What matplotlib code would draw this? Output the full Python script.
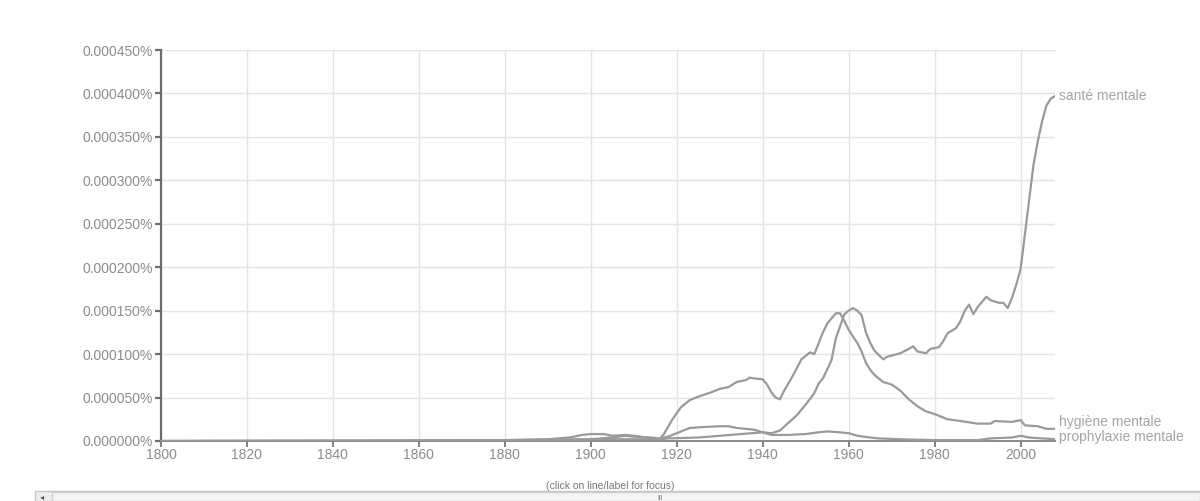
import numpy as np
import matplotlib
matplotlib.use("Agg")
import matplotlib.pyplot as plt
from matplotlib.patches import Rectangle
from matplotlib.ticker import FuncFormatter, MultipleLocator

# values are in millionths of a percent (1 = 0.000001%)
sante_years = [1800, 1850, 1880, 1900, 1910, 1916, 1918, 1925, 1930, 1935, 1940, 1942,
               1944, 1946, 1948, 1950, 1952, 1953, 1954, 1956, 1957, 1959, 1960, 1961,
               1962, 1963, 1964, 1965, 1966, 1968, 1969, 1972, 1974, 1975, 1976, 1978,
               1979, 1981, 1982, 1983, 1985, 1986, 1987, 1988, 1989, 1990, 1992, 1993,
               1995, 1996, 1997, 1998, 1999, 2000, 2001, 2002, 2003, 2004, 2005, 2006,
               2007, 2008]
sante_vals = [0, 0.3, 1, 2, 2, 2, 3, 4, 6, 8, 10, 9,
              12, 21, 30, 42, 55, 66, 72, 93, 118, 146, 150, 153,
              150, 145, 125, 113, 104, 94, 97, 101, 106, 109, 103, 101,
              106, 108, 115, 124, 130, 138, 150, 157, 146, 154, 166, 162,
              159, 159, 153, 165, 180, 198, 238, 278, 318, 345, 368, 386,
              394, 397]

hygiene_years = [1800, 1850, 1880, 1890, 1895, 1898, 1900, 1903, 1905, 1908, 1910, 1913,
                 1916, 1917, 1919, 1921, 1923, 1925, 1928, 1930, 1932, 1934, 1936, 1937,
                 1938, 1940, 1941, 1942, 1943, 1944, 1945, 1947, 1949, 1951, 1952, 1954,
                 1955, 1957, 1958, 1959, 1960, 1961, 1962, 1963, 1964, 1965, 1966, 1968,
                 1970, 1972, 1974, 1976, 1978, 1980, 1983, 1986, 1990, 1993, 1994, 1998,
                 2000, 2001, 2004, 2006, 2008]
hygiene_vals = [0, 0.5, 1, 2, 4, 7, 8, 8, 6, 7, 6, 4,
                2, 8, 25, 39, 47, 51, 56, 60, 62, 68, 70, 73,
                72, 71, 65, 56, 50, 48, 58, 75, 94, 102, 100, 125,
                135, 147, 147, 138, 128, 120, 113, 103, 90, 82, 76, 68,
                65, 58, 48, 40, 34, 31, 25, 23, 20, 20, 23, 22,
                24, 18, 17, 14, 14]

prophy_years = [1800, 1880, 1900, 1905, 1908, 1910, 1914, 1916, 1918, 1920, 1923, 1926,
                1930, 1932, 1934, 1938, 1940, 1942, 1946, 1950, 1953, 1955, 1958, 1960,
                1962, 1965, 1967, 1972, 1980, 1990, 1993, 1998, 2000, 2002, 2005, 2008]
prophy_vals = [0, 0.5, 2, 4, 6, 5, 4, 3, 5, 9, 15, 16,
               17, 17, 15, 13, 10, 7, 7, 8, 10, 11, 10, 9,
               6, 4, 3, 2, 1, 1, 3, 4, 6, 4, 3, 2]

series = [
    ("santé mentale", sante_years, sante_vals, 0),
    ("hygiène mentale", hygiene_years, hygiene_vals, 7),
    ("prophylaxie mentale", prophy_years, prophy_vals, 2),
]

line_col = "#9a9a9a"
text_col = "#8c8c8c"
plt.rcParams["font.family"] = ["Liberation Sans", "DejaVu Sans"]

fig = plt.figure(figsize=(12, 5.01), dpi=100)
ax = fig.add_axes([161 / 1200, 60 / 501, 894 / 1200, 391 / 501])

for name, yrs, vals, dy in series:
    v = np.array(vals) * 1e-6
    ax.plot(yrs, v, color=line_col, lw=1.6, solid_joinstyle="round", zorder=3)
    ax.annotate(name, (yrs[-1], v[-1]), xytext=(4, dy), textcoords="offset pixels",
                va="center", ha="left", fontsize=10, color="#a5a5a5",
                annotation_clip=False)

ax.set_xlim(1800, 2008)
ax.set_ylim(0, 0.00045)
ax.xaxis.set_major_locator(MultipleLocator(20))
ax.yaxis.set_major_locator(MultipleLocator(0.00005))
ax.yaxis.set_major_formatter(FuncFormatter(lambda v, p: "%.6f%%" % v))
ax.grid(True, color="#e4e4e4", lw=1)
ax.set_axisbelow(True)
for s in ["top", "right"]:
    ax.spines[s].set_visible(False)
ax.spines["left"].set_color("#6e6e6e")
ax.spines["left"].set_linewidth(1.6)
ax.spines["bottom"].set_color("#8a8a8a")
ax.spines["bottom"].set_linewidth(1.4)
ax.tick_params(axis="y", length=4, width=1.6, color="#6e6e6e", labelcolor=text_col,
               labelsize=10, pad=2)
ax.tick_params(axis="x", length=4, width=1.2, color="#6e6e6e", labelcolor=text_col,
               labelsize=10, pad=1)

fig.text(610 / 1200, 1 - 486 / 501, "(click on line/label for focus)", fontsize=7.5,
         color="#777777", ha="center", va="center")

# scrollbar strip at the bottom
fig.patches.append(Rectangle((35 / 1200, 0), 1 - 35 / 1200, 10 / 501,
                             transform=fig.transFigure, facecolor="#eeeeee",
                             edgecolor="#c4c4c4", lw=1))
fig.patches.append(Rectangle((52 / 1200, 0), 1 - 52 / 1200, 9 / 501,
                             transform=fig.transFigure, facecolor="#f4f4f4",
                             edgecolor="#d0d0d0", lw=1))
fig.text(42 / 1200, 4 / 501, "◂", fontsize=6, color="#555555", ha="center", va="center",
         family="DejaVu Sans")
fig.text(660 / 1200, 3 / 501, "III", fontsize=5, color="#777777", ha="center", va="center")

fig.savefig("out.png", dpi=100)
